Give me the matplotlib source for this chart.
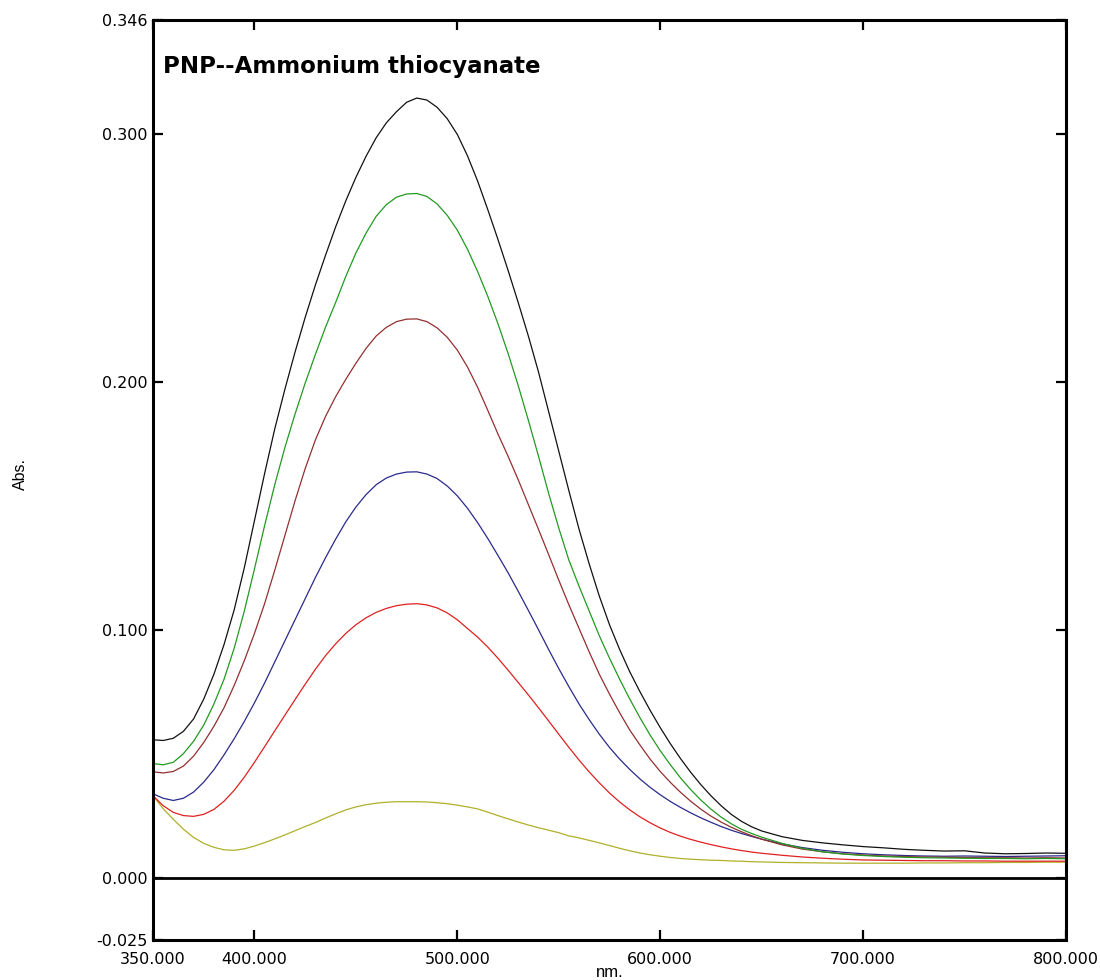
import matplotlib
matplotlib.use("Agg")
import matplotlib.pyplot as plt

# Wavelength grid (nm): 5 nm steps through the band, 10 nm steps in the flat tail
wavelength = list(range(350, 651, 5)) + list(range(660, 801, 10))

abs_black = [
    0.0556, 0.0553, 0.0562, 0.0590, 0.0640, 0.0720, 0.0820, 0.0940, 0.1080, 0.1250,
    0.1440, 0.1630, 0.1810, 0.1970, 0.2120, 0.2260, 0.2390, 0.2510, 0.2625, 0.2730,
    0.2825, 0.2910, 0.2985, 0.3045, 0.3090, 0.3128, 0.3145, 0.3137, 0.3108, 0.3062,
    0.2998, 0.2912, 0.2810, 0.2695, 0.2575, 0.2450, 0.2320, 0.2185, 0.2040, 0.1880,
    0.1720, 0.1560, 0.1405, 0.1265, 0.1135, 0.1020, 0.0920, 0.0830, 0.0750, 0.0675,
    0.0605, 0.0540, 0.0480, 0.0425, 0.0375, 0.0330, 0.0290, 0.0255, 0.0227, 0.0205,
    0.0188,
    0.0165, 0.0150, 0.0140, 0.0132, 0.0125, 0.0120, 0.0114, 0.0110, 0.0107, 0.0108,
    0.0099, 0.0096, 0.0097, 0.0099, 0.0098]

abs_green = [
    0.0460, 0.0455, 0.0465, 0.0500, 0.0550, 0.0615, 0.0700, 0.0800, 0.0925, 0.1075,
    0.1245, 0.1420, 0.1585, 0.1735, 0.1870, 0.1995, 0.2110, 0.2220, 0.2320, 0.2425,
    0.2520, 0.2600, 0.2668, 0.2715, 0.2745, 0.2758, 0.2760, 0.2748, 0.2718, 0.2672,
    0.2612, 0.2535, 0.2445, 0.2345, 0.2235, 0.2115, 0.1985, 0.1845, 0.1700, 0.1550,
    0.1410, 0.1280, 0.1175, 0.1075, 0.0975, 0.0885, 0.0800, 0.0720, 0.0645, 0.0575,
    0.0512, 0.0455, 0.0402, 0.0355, 0.0313, 0.0276, 0.0244, 0.0217, 0.0195, 0.0178,
    0.0163,
    0.0138, 0.0118, 0.0104, 0.0095, 0.0089, 0.0085, 0.0082, 0.0080, 0.0079, 0.0078,
    0.0077, 0.0077, 0.0076, 0.0077, 0.0076]

abs_maroon = [
    0.0427, 0.0422, 0.0428, 0.0450, 0.0490, 0.0545, 0.0610, 0.0685, 0.0775, 0.0875,
    0.0985, 0.1105, 0.1240, 0.1380, 0.1520, 0.1650, 0.1765, 0.1860, 0.1940, 0.2010,
    0.2075, 0.2135, 0.2185, 0.2220, 0.2243, 0.2253, 0.2254, 0.2243, 0.2218, 0.2180,
    0.2128, 0.2060, 0.1978, 0.1885, 0.1790, 0.1700, 0.1605, 0.1505, 0.1405, 0.1303,
    0.1200, 0.1100, 0.1005, 0.0910, 0.0820, 0.0740, 0.0665, 0.0595, 0.0535, 0.0478,
    0.0428, 0.0384, 0.0344, 0.0308, 0.0276, 0.0248, 0.0224, 0.0203, 0.0185, 0.0169,
    0.0155,
    0.0132, 0.0115, 0.0104, 0.0096, 0.0091, 0.0087, 0.0085, 0.0083, 0.0082, 0.0081,
    0.0080, 0.0080, 0.0079, 0.0080, 0.0079]

abs_blue = [
    0.0338, 0.0320, 0.0311, 0.0320, 0.0345, 0.0385, 0.0435, 0.0495, 0.0560, 0.0630,
    0.0705, 0.0785, 0.0870, 0.0955, 0.1040, 0.1125, 0.1210, 0.1290, 0.1365, 0.1435,
    0.1495, 0.1545, 0.1585, 0.1612, 0.1628, 0.1636, 0.1637, 0.1628, 0.1610, 0.1580,
    0.1540, 0.1490, 0.1432, 0.1368, 0.1300, 0.1230, 0.1155, 0.1078, 0.1000, 0.0920,
    0.0843, 0.0770, 0.0700, 0.0637, 0.0578, 0.0525, 0.0478, 0.0436, 0.0398, 0.0364,
    0.0334, 0.0307, 0.0283, 0.0261, 0.0241, 0.0223, 0.0206, 0.0191, 0.0178, 0.0166,
    0.0155,
    0.0136, 0.0121, 0.0110, 0.0102, 0.0096, 0.0092, 0.0089, 0.0087, 0.0086, 0.0087,
    0.0086, 0.0085, 0.0086, 0.0087, 0.0088]

abs_red = [
    0.0330, 0.0290, 0.0263, 0.0250, 0.0247, 0.0255, 0.0275, 0.0308, 0.0352, 0.0405,
    0.0465, 0.0528, 0.0592, 0.0655, 0.0718, 0.0780, 0.0840, 0.0895, 0.0943, 0.0985,
    0.1020, 0.1048, 0.1070, 0.1086, 0.1097, 0.1103, 0.1105, 0.1100, 0.1088, 0.1068,
    0.1040, 0.1005, 0.0970, 0.0930, 0.0885, 0.0837, 0.0787, 0.0737, 0.0685, 0.0632,
    0.0578, 0.0525, 0.0474, 0.0426, 0.0382, 0.0341, 0.0305, 0.0273, 0.0245, 0.0221,
    0.0200, 0.0182, 0.0167, 0.0154, 0.0143, 0.0133, 0.0124, 0.0116, 0.0109, 0.0103,
    0.0098,
    0.0090, 0.0083, 0.0078, 0.0074, 0.0071, 0.0070, 0.0069, 0.0068, 0.0068, 0.0067,
    0.0067, 0.0066, 0.0066, 0.0066, 0.0066]

abs_olive = [
    0.0330, 0.0278, 0.0235, 0.0195, 0.0162, 0.0138, 0.0122, 0.0112, 0.0110, 0.0116,
    0.0127, 0.0141, 0.0156, 0.0172, 0.0189, 0.0206, 0.0222, 0.0240, 0.0257, 0.0273,
    0.0285, 0.0294, 0.0300, 0.0304, 0.0306, 0.0306, 0.0306, 0.0305, 0.0302, 0.0298,
    0.0292, 0.0285, 0.0277, 0.0264, 0.0250, 0.0237, 0.0224, 0.0212, 0.0201, 0.0191,
    0.0181, 0.0168, 0.0160, 0.0150, 0.0140, 0.0129, 0.0118, 0.0108, 0.0099, 0.0092,
    0.0086, 0.0081, 0.0077, 0.0074, 0.0072, 0.0070, 0.0069, 0.0067, 0.0066, 0.0064,
    0.0063,
    0.0061, 0.0060, 0.0059, 0.0058, 0.0058, 0.0058, 0.0058, 0.0059, 0.0059, 0.0060,
    0.0060, 0.0061, 0.0061, 0.0062, 0.0062]

series = [
    (abs_olive, "#b0b02a"),
    (abs_red, "#e02020"),
    (abs_blue, "#2a2a8c"),
    (abs_maroon, "#933030"),
    (abs_green, "#229a22"),
    (abs_black, "#111111"),
]

x_ticks = [350, 400, 500, 600, 700, 800]
x_labels = ["350.000", "400.000", "500.000", "600.000", "700.000", "800.000"]
y_ticks = [-0.025, 0.0, 0.1, 0.2, 0.3, 0.346]
y_labels = ["-0.025", "0.000", "0.100", "0.200", "0.300", "0.346"]

fig = plt.figure(figsize=(11, 9.8), dpi=100)
ax = fig.add_axes([0.1391, 0.0413, 0.8300, 0.9383])

for values, color in series:
    ax.plot(wavelength, values, color=color, lw=0.9, solid_joinstyle="round")

ax.axhline(0.0, color="black", lw=2.0, zorder=3)

ax.set_xlim(350, 800)
ax.set_ylim(-0.025, 0.346)

ax.set_xticks(x_ticks)
ax.set_xticklabels(x_labels)
ax.set_yticks(y_ticks)
ax.set_yticklabels(y_labels)

ax.tick_params(axis="both", which="major", direction="in", length=7, width=1.6,
               top=True, right=True, labelsize=11.5, colors="black")
ax.tick_params(axis="x", pad=9)
ax.tick_params(axis="y", pad=4)
for lab in ax.get_xticklabels() + ax.get_yticklabels():
    lab.set_family("DejaVu Sans")

for spine in ax.spines.values():
    spine.set_linewidth(2.2)
    spine.set_color("black")

ax.text(0.011, 0.9424, "PNP--Ammonium thiocyanate", transform=ax.transAxes,
        ha="left", va="baseline", fontsize=16.5, fontweight="bold",
        family="DejaVu Sans", color="black")

fig.text(609.5 / 1100, 1 - 972 / 980, "nm.", ha="center", va="center",
         fontsize=12, family="Liberation Sans")
fig.text(20 / 1100, 1 - 474 / 980, "Abs.", ha="center", va="center",
         rotation=90, fontsize=11.5, family="Liberation Sans")

fig.savefig("out.png", dpi=100)
